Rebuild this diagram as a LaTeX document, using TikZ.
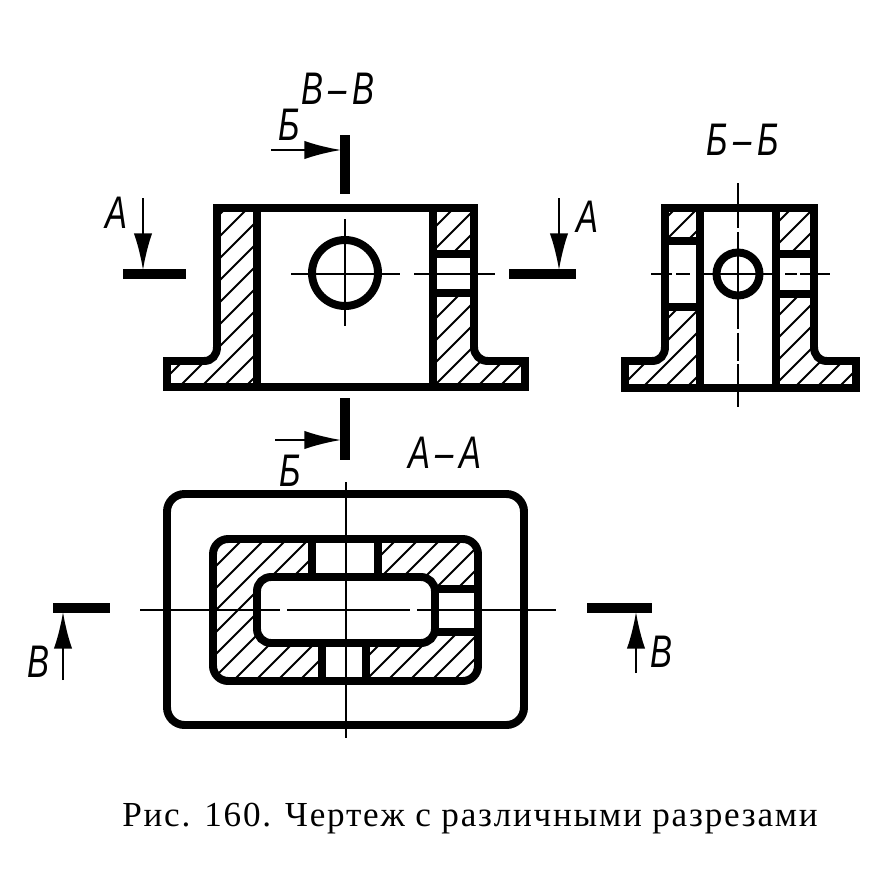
\documentclass[tikz,border=0pt]{standalone}
\usepackage{fontspec}
\setmainfont{Liberation Serif}
\newfontfamily\lettersfont{Liberation Sans}
\newfontfamily\captionfont[LetterSpace=5]{Liberation Serif}
\usetikzlibrary{arrows.meta}
\tikzset{
	contour/.style={line width=6.8pt,line join=miter},
	thinline/.style={line width=1.4pt},
	hatchline/.style={line width=1.7pt},
	sectionbar/.style={line width=7.8pt},
	sectionarrow/.style={line width=1.6pt,-{Latex[length=1.1cm,width=.55cm]}},
	letter/.style={font=\lettersfont\itshape\fontsize{39}{39}\selectfont,xscale=0.72,inner sep=0pt},
}
% hatching of a closed region: #1 = the region, #2 = first line, #3 = second line
\newcommand{\hatchregion}[3]{
	\begin{scope}
		\clip #1;
		\foreach \c in {#2,#3,...,1400} \draw[hatchline] (\c,0)--(0,\c);
	\end{scope}
}
\begin{document}
\begin{tikzpicture}[x=0.03cm,y=-0.03cm]
	\useasboundingbox (0,0) rectangle (878,871);

	% section B-B
	\hatchregion{(217,208)--(257,208)--(257,387)--(167,387)--(167,361)--(204,361) .. controls (212,361) and (217,355) .. (217,347)--cycle}{434}{456}
	\hatchregion{(433,208)--(474,208)--(474,254)--(433,254)--cycle}{640}{662}
	\hatchregion{(433,293)--(474,293)--(474,347) .. controls (474,355) and (480,361) .. (488,361)--(525,361)--(525,387)--(433,387)--cycle}{710}{732}
	\draw[contour] (257,208)--(217,208)--(217,347) .. controls (217,355) and (212,361) .. (204,361)--(167,361)--(167,387)--(525,387)--(525,361)--(488,361) .. controls (480,361) and (474,355) .. (474,347)--(474,208)--cycle;
	\draw[contour] (257,208)--(257,387);
	\draw[contour] (433,208)--(433,387);
	\draw[contour] (433,254)--(474,254);
	\draw[contour] (433,293)--(474,293);
	\draw[contour] (345,273) circle (33);
	\draw[thinline] (345,219)--(345,326);
	\draw[thinline] (291,274)--(400,274);
	\draw[thinline] (414,274)--(495,274);

	% section marks of the top view
	\draw[sectionbar] (345,135)--(345,194);
	\draw[sectionbar] (345,398)--(345,460);
	\draw[sectionbar] (123,274)--(186,274);
	\draw[sectionbar] (509,274)--(576,274);
	\draw[sectionarrow] (271,150)--(341,150);
	\draw[sectionarrow] (275,440)--(341,440);
	\draw[sectionarrow] (143,198)--(143,270);
	\draw[sectionarrow] (559,198)--(559,270);
	\node[letter] (titlev) at (338,89) {В\,–\,В};
	\node[letter] (markb1) at (289,125) {Б};
	\node[letter] (markb2) at (290,471) {Б};
	\node[letter] (marka1) at (116,213) {А};
	\node[letter] (marka2) at (587,217) {А};

	% section b-b
	\hatchregion{(665,208)--(700,208)--(700,241)--(665,241)--cycle}{884}{906}
	\hatchregion{(665,307)--(700,307)--(700,388)--(625,388)--(625,361)--(652,361) .. controls (660,361) and (665,355) .. (665,347)--cycle}{964}{986}
	\hatchregion{(776,208)--(814,208)--(814,254)--(776,254)--cycle}{1000}{1022}
	\hatchregion{(776,294)--(814,294)--(814,347) .. controls (814,355) and (819,361) .. (827,361)--(856,361)--(856,388)--(776,388)--cycle}{1072}{1094}
	\draw[contour] (700,208)--(665,208)--(665,347) .. controls (665,355) and (660,361) .. (652,361)--(625,361)--(625,388)--(856,388)--(856,361)--(827,361) .. controls (819,361) and (814,355) .. (814,347)--(814,208)--cycle;
	\draw[contour] (700,208)--(700,388);
	\draw[contour] (776,208)--(776,388);
	\draw[contour] (665,241)--(700,241);
	\draw[contour] (665,307)--(700,307);
	\draw[contour] (776,254)--(814,254);
	\draw[contour] (776,294)--(814,294);
	\draw[contour] (738,274) circle (21.5);
	% axes of section b-b, broken inside the hollow
	\draw[thinline] (738,183)--(738,208);
	\draw[thinline,dash pattern=on 14pt off 3pt] (738,212)--(738,247);
	\draw[thinline] (738,247)--(738,301);
	\draw[thinline,dash pattern=on 24pt off 3pt] (738,301)--(738,388);
	\draw[thinline] (738,388)--(738,407);
	\draw[thinline] (651,274)--(672,274);
	\draw[thinline] (676,274)--(690,274);
	\draw[thinline] (704,274)--(772,274);
	\draw[thinline] (785,274)--(797,274);
	\draw[thinline] (800,274)--(830,274);
	\node[letter] (titleb) at (743,140) {Б\,–\,Б};

	% section A-A
	\hatchregion{[rounded corners=13] (213,539) rectangle (478,681)}{760}{782}
	\fill[white,rounded corners=12] (257,577) rectangle (435,643);
	\fill[white] (312,539) rectangle (378,577);
	\fill[white] (322,643) rectangle (366,681);
	\fill[white] (435,589) rectangle (478,632);
	\draw[contour,rounded corners=15] (167,494) rectangle (524,725);
	\draw[contour,rounded corners=13] (213,539) rectangle (478,681);
	\draw[contour,rounded corners=12] (257,577) rectangle (435,643);
	\draw[contour] (312,539)--(312,577);
	\draw[contour] (378,539)--(378,577);
	\draw[contour] (322,643)--(322,681);
	\draw[contour] (366,643)--(366,681);
	\draw[contour] (435,589)--(478,589);
	\draw[contour] (435,632)--(478,632);
	\draw[thinline] (346,482)--(346,738);
	\draw[thinline] (140,610)--(280,610);
	\draw[thinline] (287,610)--(410,610);
	\draw[thinline] (417,610)--(556,610);

	% section marks of the plan
	\draw[sectionbar] (53,608)--(110,608);
	\draw[sectionbar] (587,608)--(652,608);
	\draw[sectionarrow] (63,680)--(63,612);
	\draw[sectionarrow] (636,673)--(636,612);
	\node[letter] (titlea) at (445,453) {А\,–\,А};
	\node[letter] (markv1) at (38,662) {В};
	\node[letter] (markv2) at (661,652) {В};

	\node[font=\captionfont\fontsize{30}{30}\selectfont,inner sep=0pt] (caption) at (470,819) {Рис. 160. Чертеж с различными разрезами};
\end{tikzpicture}
\end{document}
